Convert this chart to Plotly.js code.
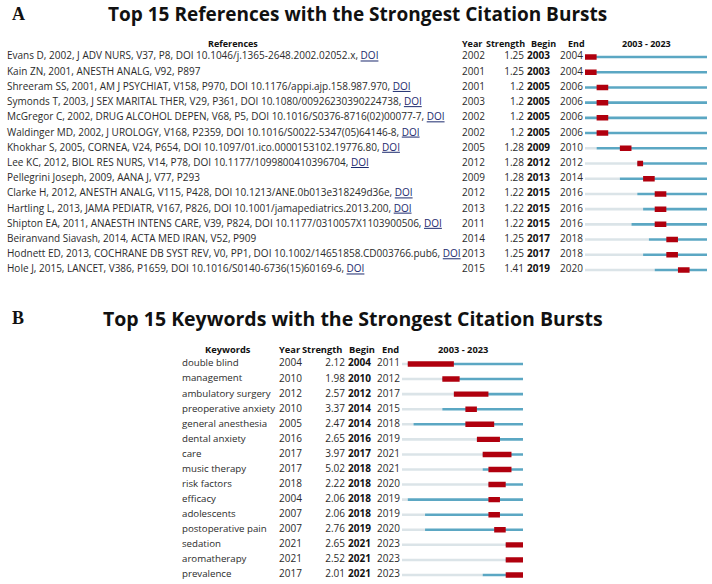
<!DOCTYPE html>
<html>
<head>
<meta charset="utf-8">
<script src="https://cdn.plot.ly/plotly-3.0.1.min.js"></script>
<style>html,body{margin:0;padding:0;background:#fff;}#chart{width:712px;height:584px;}</style>
</head>
<body>
<div id="chart"></div>
<script>
// ---------- Panel A data: references ----------
const refLabels = [
  "Evans D, 2002, J ADV NURS, V37, P8, DOI 10.1046/j.1365-2648.2002.02052.x, DOI",
  "Kain ZN, 2001, ANESTH ANALG, V92, P897",
  "Shreeram SS, 2001, AM J PSYCHIAT, V158, P970, DOI 10.1176/appi.ajp.158.987.970, DOI",
  "Symonds T, 2003, J SEX MARITAL THER, V29, P361, DOI 10.1080/00926230390224738, DOI",
  "McGregor C, 2002, DRUG ALCOHOL DEPEN, V68, P5, DOI 10.1016/S0376-8716(02)00077-7, DOI",
  "Waldinger MD, 2002, J UROLOGY, V168, P2359, DOI 10.1016/S0022-5347(05)64146-8, DOI",
  "Khokhar S, 2005, CORNEA, V24, P654, DOI 10.1097/01.ico.0000153102.19776.80, DOI",
  "Lee KC, 2012, BIOL RES NURS, V14, P78, DOI 10.1177/1099800410396704, DOI",
  "Pellegrini Joseph, 2009, AANA J, V77, P293",
  "Clarke H, 2012, ANESTH ANALG, V115, P428, DOI 10.1213/ANE.0b013e318249d36e, DOI",
  "Hartling L, 2013, JAMA PEDIATR, V167, P826, DOI 10.1001/jamapediatrics.2013.200, DOI",
  "Shipton EA, 2011, ANAESTH INTENS CARE, V39, P824, DOI 10.1177/0310057X1103900506, DOI",
  "Beiranvand Siavash, 2014, ACTA MED IRAN, V52, P909",
  "Hodnett ED, 2013, COCHRANE DB SYST REV, V0, PP1, DOI 10.1002/14651858.CD003766.pub6, DOI",
  "Hole J, 2015, LANCET, V386, P1659, DOI 10.1016/S0140-6736(15)60169-6, DOI"
];
const refYear     = [2002, 2001, 2001, 2003, 2002, 2002, 2005, 2012, 2009, 2012, 2013, 2011, 2014, 2013, 2015];
const refStrength = ["1.25","1.25","1.2","1.2","1.2","1.2","1.28","1.28","1.28","1.22","1.22","1.22","1.25","1.25","1.41"];
const refBegin    = [2003, 2003, 2005, 2005, 2005, 2005, 2009, 2012, 2013, 2015, 2015, 2015, 2017, 2017, 2019];
const refEnd      = [2004, 2004, 2006, 2006, 2006, 2006, 2010, 2012, 2014, 2016, 2016, 2016, 2018, 2018, 2020];

// ---------- Panel B data: keywords ----------
const kwLabels = ["double blind","management","ambulatory surgery","preoperative anxiety","general anesthesia",
  "dental anxiety","care","music therapy","risk factors","efficacy","adolescents","postoperative pain",
  "sedation","aromatherapy","prevalence"];
const kwYear     = [2004, 2010, 2012, 2010, 2005, 2016, 2017, 2017, 2018, 2004, 2007, 2007, 2021, 2021, 2017];
const kwStrength = ["2.12","1.98","2.57","3.37","2.47","2.65","3.97","5.02","2.22","2.06","2.06","2.76","2.65","2.52","2.01"];
const kwBegin    = [2004, 2010, 2012, 2014, 2014, 2016, 2017, 2018, 2018, 2018, 2018, 2019, 2021, 2021, 2021];
const kwEnd      = [2011, 2012, 2017, 2015, 2018, 2019, 2021, 2021, 2020, 2019, 2019, 2020, 2023, 2023, 2023];

const headers = ["Year", "Strength", "Begin", "End"];
const yearStart = 2003, yearEnd = 2023;

// ---------- layout geometry ----------
const W = 712, H = 584;
const FONT = "Open Sans, sans-serif";
const TXT = "#2b2b2b";
const RED = "#b0000e", BLUE = "#5ba7c3", GREY = "#dbe4e8";

function yDomain(row0px, step, lo, hi) {
  const top = row0px + lo * step, bot = row0px + hi * step;
  return [Math.max(0, 1 - bot / H), Math.min(1, 1 - top / H)];
}
const A = {row0: 57, step: 15.214, lab: 7, year: 462, strR: 524, begin: 527, end: 560, bar: [585, 707], hdrY: -0.9,
           hYear: 460, hStrR: 527, hBegin: 529, hEnd: 566, refCenter: 233, labFs: 10, fs: 10, hFs: 9};
const B = {row0: 364, step: 15.07, lab: 182, year: 279, strR: 345, begin: 348, end: 377, bar: [402, 523], hdrY: -0.98,
           hYear: 277, hStrR: 344, hBegin: 347, hEnd: 380, refCenter: 228, labFs: 9.7, fs: 10, hFs: 9.3};

function idx(n) { return Array.from({length: n}, (_, i) => i); }

function fmtRef(s) {
  return s.replace(/, DOI$/, ', <span style="text-decoration:underline;fill:#1c2a6e">DOI</span>');
}

function panelTraces(P, labels, yr, str, beg, end, xa, ya, xb) {
  const rows = idx(labels.length);
  const tf = {family: FONT, size: P.fs, color: TXT};
  const common = {type: "scatter", mode: "text", xaxis: xa, yaxis: ya, hoverinfo: "skip", showlegend: false, cliponaxis: false, textfont: tf};
  const t = [];
  t.push(Object.assign({}, common, {x: rows.map(() => P.lab), y: rows, text: labels.map(fmtRef), textposition: "middle right",
    textfont: {family: FONT, size: P.labFs, color: TXT}}));
  t.push(Object.assign({}, common, {x: rows.map(() => P.year), y: rows, text: yr.map(String), textposition: "middle right"}));
  t.push(Object.assign({}, common, {x: rows.map(() => P.strR), y: rows, text: str, textposition: "middle left"}));
  t.push(Object.assign({}, common, {x: rows.map(() => P.begin), y: rows, text: beg.map(v => "<b>" + v + "</b>"), textposition: "middle right",
    textfont: {family: FONT, size: P.fs, color: "#111"}}));
  t.push(Object.assign({}, common, {x: rows.map(() => P.end), y: rows, text: end.map(String), textposition: "middle right"}));
  const barC = {type: "bar", orientation: "h", xaxis: xb, yaxis: ya, hoverinfo: "skip", showlegend: false};
  const greyBase = rows.map(() => yearStart);
  const greyLen = yr.map(v => Math.max(0, v - yearStart));
  const blueBase = yr.map(v => Math.max(v, yearStart));
  const blueLen = blueBase.map(v => yearEnd + 1 - v);
  t.push(Object.assign({}, barC, {y: rows, base: greyBase, x: greyLen, width: 0.17, marker: {color: GREY, line: {width: 0}}}));
  t.push(Object.assign({}, barC, {y: rows, base: blueBase, x: blueLen, width: 0.17, marker: {color: BLUE, line: {width: 0}}}));
  t.push(Object.assign({}, barC, {y: rows, base: beg, x: beg.map((b, i) => end[i] + 1 - b), width: 0.36, marker: {color: RED, line: {width: 0}}}));
  return t;
}

const data = [].concat(
  panelTraces(A, refLabels, refYear, refStrength, refBegin, refEnd, "x", "y", "x3"),
  panelTraces(B, kwLabels, kwYear, kwStrength, kwBegin, kwEnd, "x2", "y2", "x4")
);

function headerAnns(P, firstTitle, xr, yr) {
  const f = {family: FONT, size: P.hFs, color: "#111"};
  const base = {xref: xr, yref: yr, y: P.hdrY, showarrow: false, yanchor: "middle", font: f};
  return [
    Object.assign({}, base, {x: P.refCenter, text: "<b>" + firstTitle + "</b>", xanchor: "center"}),
    Object.assign({}, base, {x: P.hYear, text: "<b>" + headers[0] + "</b>", xanchor: "left"}),
    Object.assign({}, base, {x: P.hStrR, text: "<b>" + headers[1] + "</b>", xanchor: "right"}),
    Object.assign({}, base, {x: P.hBegin, text: "<b>" + headers[2] + "</b>", xanchor: "left"}),
    Object.assign({}, base, {x: P.hEnd, text: "<b>" + headers[3] + "</b>", xanchor: "left"}),
    Object.assign({}, base, {x: (P.bar[0] + P.bar[1]) / 2, text: "<b>" + yearStart + " - " + yearEnd + "</b>", xanchor: "center"})
  ];
}

const hidden = {visible: false, fixedrange: true, showgrid: false, zeroline: false};
const layout = {
  width: W, height: H,
  margin: {l: 0, r: 0, t: 0, b: 0},
  paper_bgcolor: "#fff", plot_bgcolor: "rgba(0,0,0,0)",
  barmode: "overlay",
  showlegend: false,
  xaxis:  Object.assign({}, hidden, {domain: [0, 1], range: [0, W], anchor: "y"}),
  xaxis2: Object.assign({}, hidden, {domain: [0, 1], range: [0, W], anchor: "y2"}),
  xaxis3: Object.assign({}, hidden, {domain: [A.bar[0] / W, A.bar[1] / W], range: [yearStart, yearEnd + 1], anchor: "y"}),
  xaxis4: Object.assign({}, hidden, {domain: [B.bar[0] / W, B.bar[1] / W], range: [yearStart, yearEnd + 1], anchor: "y2"}),
  yaxis:  Object.assign({}, hidden, {domain: yDomain(A.row0, A.step, -2, 15), range: [15, -2], anchor: "x"}),
  yaxis2: Object.assign({}, hidden, {domain: yDomain(B.row0, B.step, -2, 14.55), range: [14.55, -2], anchor: "x2"}),
  annotations: [].concat(
    [
      {xref: "paper", yref: "paper", x: 10 / W, y: 1 - 14 / H, xanchor: "left", yanchor: "middle", showarrow: false,
       text: "<b>A</b>", font: {family: "Liberation Serif, serif", size: 18, color: "#111"}},
      {xref: "paper", yref: "paper", x: 357 / W, y: 1 - 14 / H, xanchor: "center", yanchor: "middle", showarrow: false,
       text: "<b>Top 15 References with the Strongest Citation Bursts</b>", font: {family: FONT, size: 19, color: "#111"}},
      {xref: "paper", yref: "paper", x: 10 / W, y: 1 - 318 / H, xanchor: "left", yanchor: "middle", showarrow: false,
       text: "<b>B</b>", font: {family: "Liberation Serif, serif", size: 18, color: "#111"}},
      {xref: "paper", yref: "paper", x: 353 / W, y: 1 - 318 / H, xanchor: "center", yanchor: "middle", showarrow: false,
       text: "<b>Top 15 Keywords with the Strongest Citation Bursts</b>", font: {family: FONT, size: 19.5, color: "#111"}}
    ],
    headerAnns(A, "References", "x", "y"),
    headerAnns(B, "Keywords", "x2", "y2")
  )
};

Plotly.newPlot("chart", data, layout, {staticPlot: true, displayModeBar: false});
</script>
</body>
</html>
